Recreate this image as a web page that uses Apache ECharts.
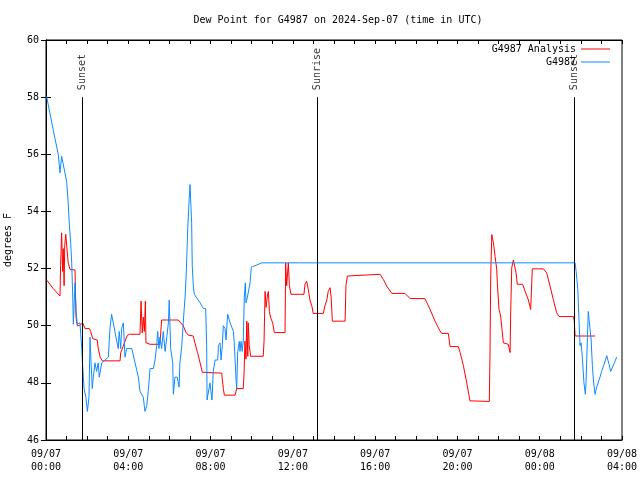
<!DOCTYPE html>
<html><head><meta charset="utf-8">
<script src="https://cdn.jsdelivr.net/npm/echarts@6/dist/echarts.min.js"></script>
<style>html,body{margin:0;padding:0;background:#fff}#c{width:640px;height:480px}</style>
</head><body><div id="c"></div>
<script>
// Hours since 2024-09-07 00:00 UTC
var anaTimes = [0.03,0.35,0.68,0.71,0.76,0.81,0.84,0.88,0.91,0.96,1.04,1.08,1.17,1.41,1.46,1.52,1.62,1.78,1.90,2.11,2.17,2.27,2.49,2.54,2.63,2.74,3.60,3.63,3.95,4.05,4.57,4.62,4.68,4.73,4.78,4.83,4.86,5.06,5.54,5.62,6.43,6.51,6.67,6.81,6.92,7.16,7.24,7.36,7.45,7.49,7.60,8.54,8.62,8.67,9.19,9.27,9.59,9.63,9.67,9.72,9.76,9.81,9.83,9.88,9.95,10.56,10.60,10.65,10.70,10.76,10.81,10.86,10.92,11.02,11.10,11.62,11.65,11.70,11.78,11.83,11.91,12.54,12.59,12.67,12.75,12.83,12.92,12.99,13.48,13.56,13.65,13.72,13.81,13.86,13.92,14.54,14.58,14.65,14.74,16.24,16.40,16.56,16.81,17.45,17.70,18.42,18.67,18.91,19.15,19.24,19.56,19.64,20.04,20.13,20.29,20.45,20.61,21.55,21.58,21.62,21.67,21.75,21.83,21.91,21.94,22.02,22.10,22.20,22.23,22.47,22.56,22.59,22.64,22.72,22.80,22.85,22.91,23.17,23.29,23.45,23.56,23.58,23.64,24.18,24.34,24.50,24.66,24.82,24.94,25.64,25.68,25.72,26.69];
var anaValues = [51.6,51.3,51.04,52.1,53.25,51.9,52.7,51.4,52.8,53.2,53.2,52.2,51.97,51.95,50.3,50.0,50.0,50.1,49.9,49.9,49.8,49.55,49.5,49.2,48.9,48.77,48.77,49.05,49.66,49.7,49.7,50.86,49.75,50.3,49.8,50.86,49.4,49.35,49.35,50.2,50.2,50.15,50.0,49.76,49.67,49.64,49.4,49.07,48.83,48.7,48.37,48.34,47.8,47.57,47.57,47.8,47.8,48.37,49.46,48.83,50.16,48.93,50.1,49.3,48.93,48.93,49.46,51.2,50.64,51.04,51.2,50.5,50.28,50.1,49.76,49.76,52.2,51.4,52.2,51.4,51.1,51.1,51.45,51.56,51.27,50.9,50.7,50.43,50.43,50.7,50.9,51.2,51.33,51.0,50.16,50.16,51.4,51.74,51.8,51.8,51.62,51.39,51.13,51.13,50.95,50.95,50.57,50.16,49.82,49.73,49.73,49.27,49.27,49.06,48.6,48.01,47.37,47.35,48.83,51.8,53.19,52.9,52.43,51.97,51.5,50.57,50.34,49.64,49.4,49.35,49.06,50.51,52.03,52.3,52.3,51.85,51.45,51.45,51.2,50.9,50.57,50.9,51.99,51.99,51.85,51.39,50.92,50.46,50.32,50.32,50.16,49.64,49.64];

var obsTimes = [0.03,0.35,0.60,0.68,0.76,0.92,1.01,1.08,1.13,1.20,1.25,1.30,1.33,1.41,1.46,1.52,1.65,1.74,1.78,1.85,1.94,2.01,2.09,2.14,2.19,2.25,2.30,2.38,2.46,2.54,2.59,2.71,2.87,3.03,3.11,3.19,3.27,3.40,3.51,3.56,3.63,3.68,3.76,3.84,3.92,4.17,4.33,4.49,4.57,4.73,4.81,4.90,4.97,5.06,5.22,5.30,5.38,5.43,5.49,5.54,5.62,5.70,5.79,5.87,5.95,5.99,6.06,6.16,6.19,6.27,6.38,6.47,6.51,6.60,6.67,6.76,6.81,6.84,6.89,6.95,7.00,7.08,7.11,7.16,7.21,7.49,7.65,7.76,7.81,7.83,7.89,7.97,8.02,8.07,8.13,8.22,8.35,8.38,8.46,8.51,8.57,8.62,8.70,8.75,8.83,8.95,9.03,9.11,9.15,9.24,9.27,9.32,9.40,9.43,9.48,9.54,9.59,9.64,9.69,9.72,9.79,9.85,9.92,9.98,10.16,10.49,25.72,25.77,25.85,25.91,25.96,26.01,26.07,26.15,26.22,26.25,26.32,26.36,26.45,26.50,26.56,26.61,26.69,26.77,26.85,26.93,27.01,27.13,27.26,27.37,27.45,27.53,27.63,27.74];
var obsValues = [58.02,56.86,55.98,55.35,55.93,55.35,55.0,54.3,53.6,52.9,52.2,51.0,50.05,51.5,50.5,50.05,50.1,49.2,48.6,47.8,47.5,47.0,47.5,49.6,48.7,47.8,48.2,48.7,48.4,48.7,48.2,48.7,48.8,48.9,49.9,50.4,50.1,49.6,49.2,49.8,49.2,49.9,50.1,48.9,49.2,49.2,48.7,48.2,47.7,47.5,47.0,47.2,47.7,48.5,48.5,48.8,49.3,49.8,49.2,49.6,49.2,49.8,49.1,49.6,50.1,50.9,49.2,48.7,47.6,48.2,48.2,47.85,48.7,49.3,50.1,51.0,51.7,52.3,53.4,54.3,54.94,53.6,52.1,51.4,51.1,50.8,50.6,50.6,49.3,47.4,47.4,48.0,47.7,47.4,48.4,48.8,48.8,49.3,49.4,48.8,49.3,50.0,49.9,49.5,50.4,50.1,49.95,49.8,49.4,48.1,47.8,49.1,49.45,49.1,49.45,49.1,49.5,51.0,51.5,50.8,51.0,51.0,51.5,52.05,52.1,52.2,52.2,51.9,51.3,50.2,49.3,49.4,48.9,48.0,47.6,48.0,49.6,50.5,50.5,49.5,48.6,48.1,47.6,47.85,47.9,48.2,48.4,48.65,48.95,48.65,48.4,48.4,48.7,48.9];

var sunNames = ['Sunset','Sunrise','Sunset'];
var sunTimes = [1.76,13.17,25.67];
var sunLineTop = 58;

var seriesNames = ['G4987 Analysis','G4987'];
var FONT = 'DejaVu Sans Mono';

function zip(a,b){ return a.map(function(v,i){ return [v,b[i]]; }); }
function fmtX(v){
  var day = 7 + Math.floor(v/24);
  var h = v % 24;
  return '09/' + (day<10?'0':'') + day + '\n' + (h<10?'0':'') + h + ':00';
}

var chart = echarts.init(document.getElementById('c'), null, {renderer:'canvas'});
var txt = {color:'#000', fontFamily:FONT, fontSize:10};
chart.setOption({
  animation:false,
  backgroundColor:'#fff',
  title:{text:'Dew Point for G4987 on 2024-Sep-07 (time in UTC)', left:333, top:10, textAlign:'center',
    textStyle:{color:'#000', fontFamily:FONT, fontSize:10, fontWeight:'normal'}},
  legend:{data:seriesNames, orient:'vertical', right:25, top:38, align:'right', icon:'rect',
    itemWidth:29, itemHeight:1, itemGap:1, textStyle:{color:'#000', fontFamily:FONT, fontSize:10, lineHeight:12}},
  grid:{left:46, right:18, top:40, bottom:40, show:true, borderColor:'#000', borderWidth:1, outerBoundsMode:'none', containLabel:false},
  xAxis:[{type:'value', min:0, max:28, interval:4, position:'bottom',
      axisLine:{lineStyle:{color:'#000'}}, splitLine:{show:false},
      axisTick:{inside:true, length:4, lineStyle:{color:'#000'}},
      minorTick:{show:true, splitNumber:4, length:4, lineStyle:{color:'#000'}},
      axisLabel:Object.assign({formatter:fmtX, margin:8, lineHeight:13}, txt)},
    {type:'value', min:0, max:28, interval:4, position:'top',
      axisLine:{lineStyle:{color:'#000'}}, splitLine:{show:false},
      axisTick:{inside:true, length:4, lineStyle:{color:'#000'}},
      minorTick:{show:true, splitNumber:4, length:4, lineStyle:{color:'#000'}},
      axisLabel:{show:false}}],
  yAxis:[{type:'value', min:46, max:60, interval:2, position:'left',
      name:'degrees F', nameLocation:'middle', nameGap:33, nameRotate:90,
      nameTextStyle:{color:'#000', fontFamily:FONT, fontSize:10},
      axisLine:{show:true, lineStyle:{color:'#000'}}, splitLine:{show:false},
      axisTick:{show:true, inside:true, length:5, lineStyle:{color:'#000'}},
      axisLabel:Object.assign({margin:7}, txt)},
    {type:'value', min:46, max:60, interval:2, position:'right',
      axisLine:{show:true, lineStyle:{color:'#000'}}, splitLine:{show:false},
      axisTick:{show:true, inside:true, length:5, lineStyle:{color:'#000'}},
      axisLabel:{show:false}}],
  series:[
    {name:seriesNames[0], type:'line', data:zip(anaTimes, anaValues), showSymbol:false, symbol:'none',
      color:'#ff0000', lineStyle:{width:1, color:'#ff0000'}},
    {name:seriesNames[1], type:'line', data:zip(obsTimes, obsValues), showSymbol:false, symbol:'none',
      color:'#0f8bff', lineStyle:{width:1, color:'#0f8bff'}},
    {name:'sun', type:'scatter', symbolSize:0, silent:true,
      data:sunTimes.map(function(t,i){ return {value:[t, sunLineTop], name:sunNames[i]}; }),
      label:{show:true, position:'top', distance:7, rotate:90, align:'left', verticalAlign:'middle',
        formatter:function(p){ return p.name; }, color:'#000', fontFamily:FONT, fontSize:10},
      markLine:{silent:true, symbol:['none','none'], label:{show:false},
        lineStyle:{color:'#000', width:1, type:'solid'},
        data:sunTimes.map(function(t){ return [{coord:[t,46]},{coord:[t,sunLineTop]}]; })}}
  ]
});
</script></body></html>
